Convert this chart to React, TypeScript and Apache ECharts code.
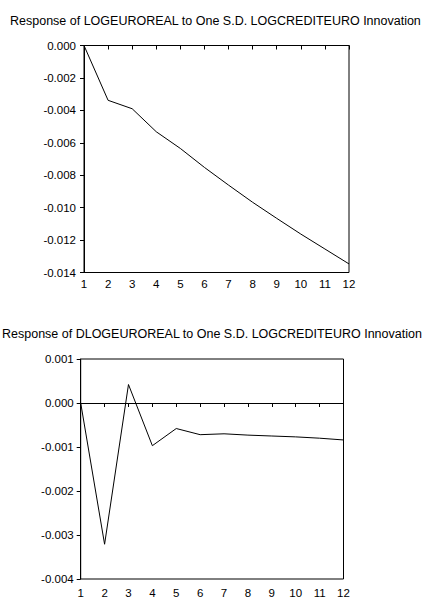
import React, { useEffect, useRef } from "react";
import * as echarts from "echarts";

const periods = ["1", "2", "3", "4", "5", "6", "7", "8", "9", "10", "11", "12"];
const responseLogEuroReal = [0, -0.00338, -0.0039, -0.00532, -0.00635, -0.00752, -0.00861, -0.00967, -0.01066, -0.01163, -0.01255, -0.01347];
const responseDLogEuroReal = [0, -0.00321, 0.00042, -0.00097, -0.00058, -0.00072, -0.0007, -0.00073, -0.00075, -0.00077, -0.0008, -0.00084];
const title1 = "Response of LOGEUROREAL to One S.D. LOGCREDITEURO Innovation";
const title2 = "Response of DLOGEUROREAL to One S.D. LOGCREDITEURO Innovation";

const FONT = "'Liberation Sans', Arial, sans-serif";

export default function App() {
  const ref = useRef<HTMLDivElement>(null);
  useEffect(() => {
    if (!ref.current) return;
    const chart = echarts.init(ref.current, null, { renderer: "svg" });
    const xAxis = (gridIndex: number, margin: number) => ({
      type: "category",
      gridIndex,
      data: periods,
      boundaryGap: false,
      axisLine: { show: true, lineStyle: { color: "#000", width: 1 } },
      splitLine: { show: false },
      axisLabel: { color: "#000", fontSize: 11.5, fontFamily: FONT, margin, interval: 0 },
      axisTick: { show: true, inside: false, length: 4, interval: 0, lineStyle: { color: "#000" } },
    });
    const yAxis = (gridIndex: number, min: number, max: number, interval: number, margin: number) => ({
      type: "value",
      gridIndex,
      min,
      max,
      interval,
      axisLine: { show: true, lineStyle: { color: "#000", width: 1 } },
      axisTick: { show: true, inside: false, length: 4, lineStyle: { color: "#000" } },
      splitLine: { show: false },
      axisLabel: {
        color: "#000",
        fontSize: 11.5,
        fontFamily: FONT,
        margin,
        formatter: (v: number) => v.toFixed(3),
      },
    });
    chart.setOption({
      animation: false,
      backgroundColor: "#fff",
      title: [
        {
          text: title1,
          left: 5,
          top: 9,
          textStyle: { fontSize: 12.5, fontWeight: "normal", color: "#000", fontFamily: FONT },
        },
        {
          text: title2,
          left: -3,
          top: 322,
          textStyle: { fontSize: 12.5, fontWeight: "normal", color: "#000", fontFamily: FONT },
        },
      ],
      grid: [
        { left: 84, right: 77, top: 45.5, height: 227, show: true, borderColor: "#000", borderWidth: 1, backgroundColor: "transparent" },
        { left: 80.7, right: 82.5, top: 359, height: 225, show: true, borderColor: "#000", borderWidth: 1, backgroundColor: "transparent" },
      ],
      xAxis: [xAxis(0, 5), xAxis(1, 8)],
      yAxis: [yAxis(0, -0.014, 0, 0.002, 8), yAxis(1, -0.004, 0.001, 0.001, 7)],
      series: [
        {
          type: "line",
          xAxisIndex: 0,
          yAxisIndex: 0,
          data: responseLogEuroReal,
          showSymbol: false,
          symbol: "none",
          lineStyle: { color: "#000", width: 1 },
        },
        {
          type: "line",
          xAxisIndex: 1,
          yAxisIndex: 1,
          data: responseDLogEuroReal,
          showSymbol: false,
          symbol: "none",
          lineStyle: { color: "#000", width: 1 },
          markLine: {
            silent: true,
            symbol: "none",
            label: { show: false },
            lineStyle: { color: "#000", width: 1, type: "solid" },
            data: [{ yAxis: 0 }],
          },
        },
      ],
    });
    return () => chart.dispose();
  }, []);
  return <div ref={ref} style={{ position: "fixed", left: 0, top: 0, width: 426, height: 599 }} />;
}
